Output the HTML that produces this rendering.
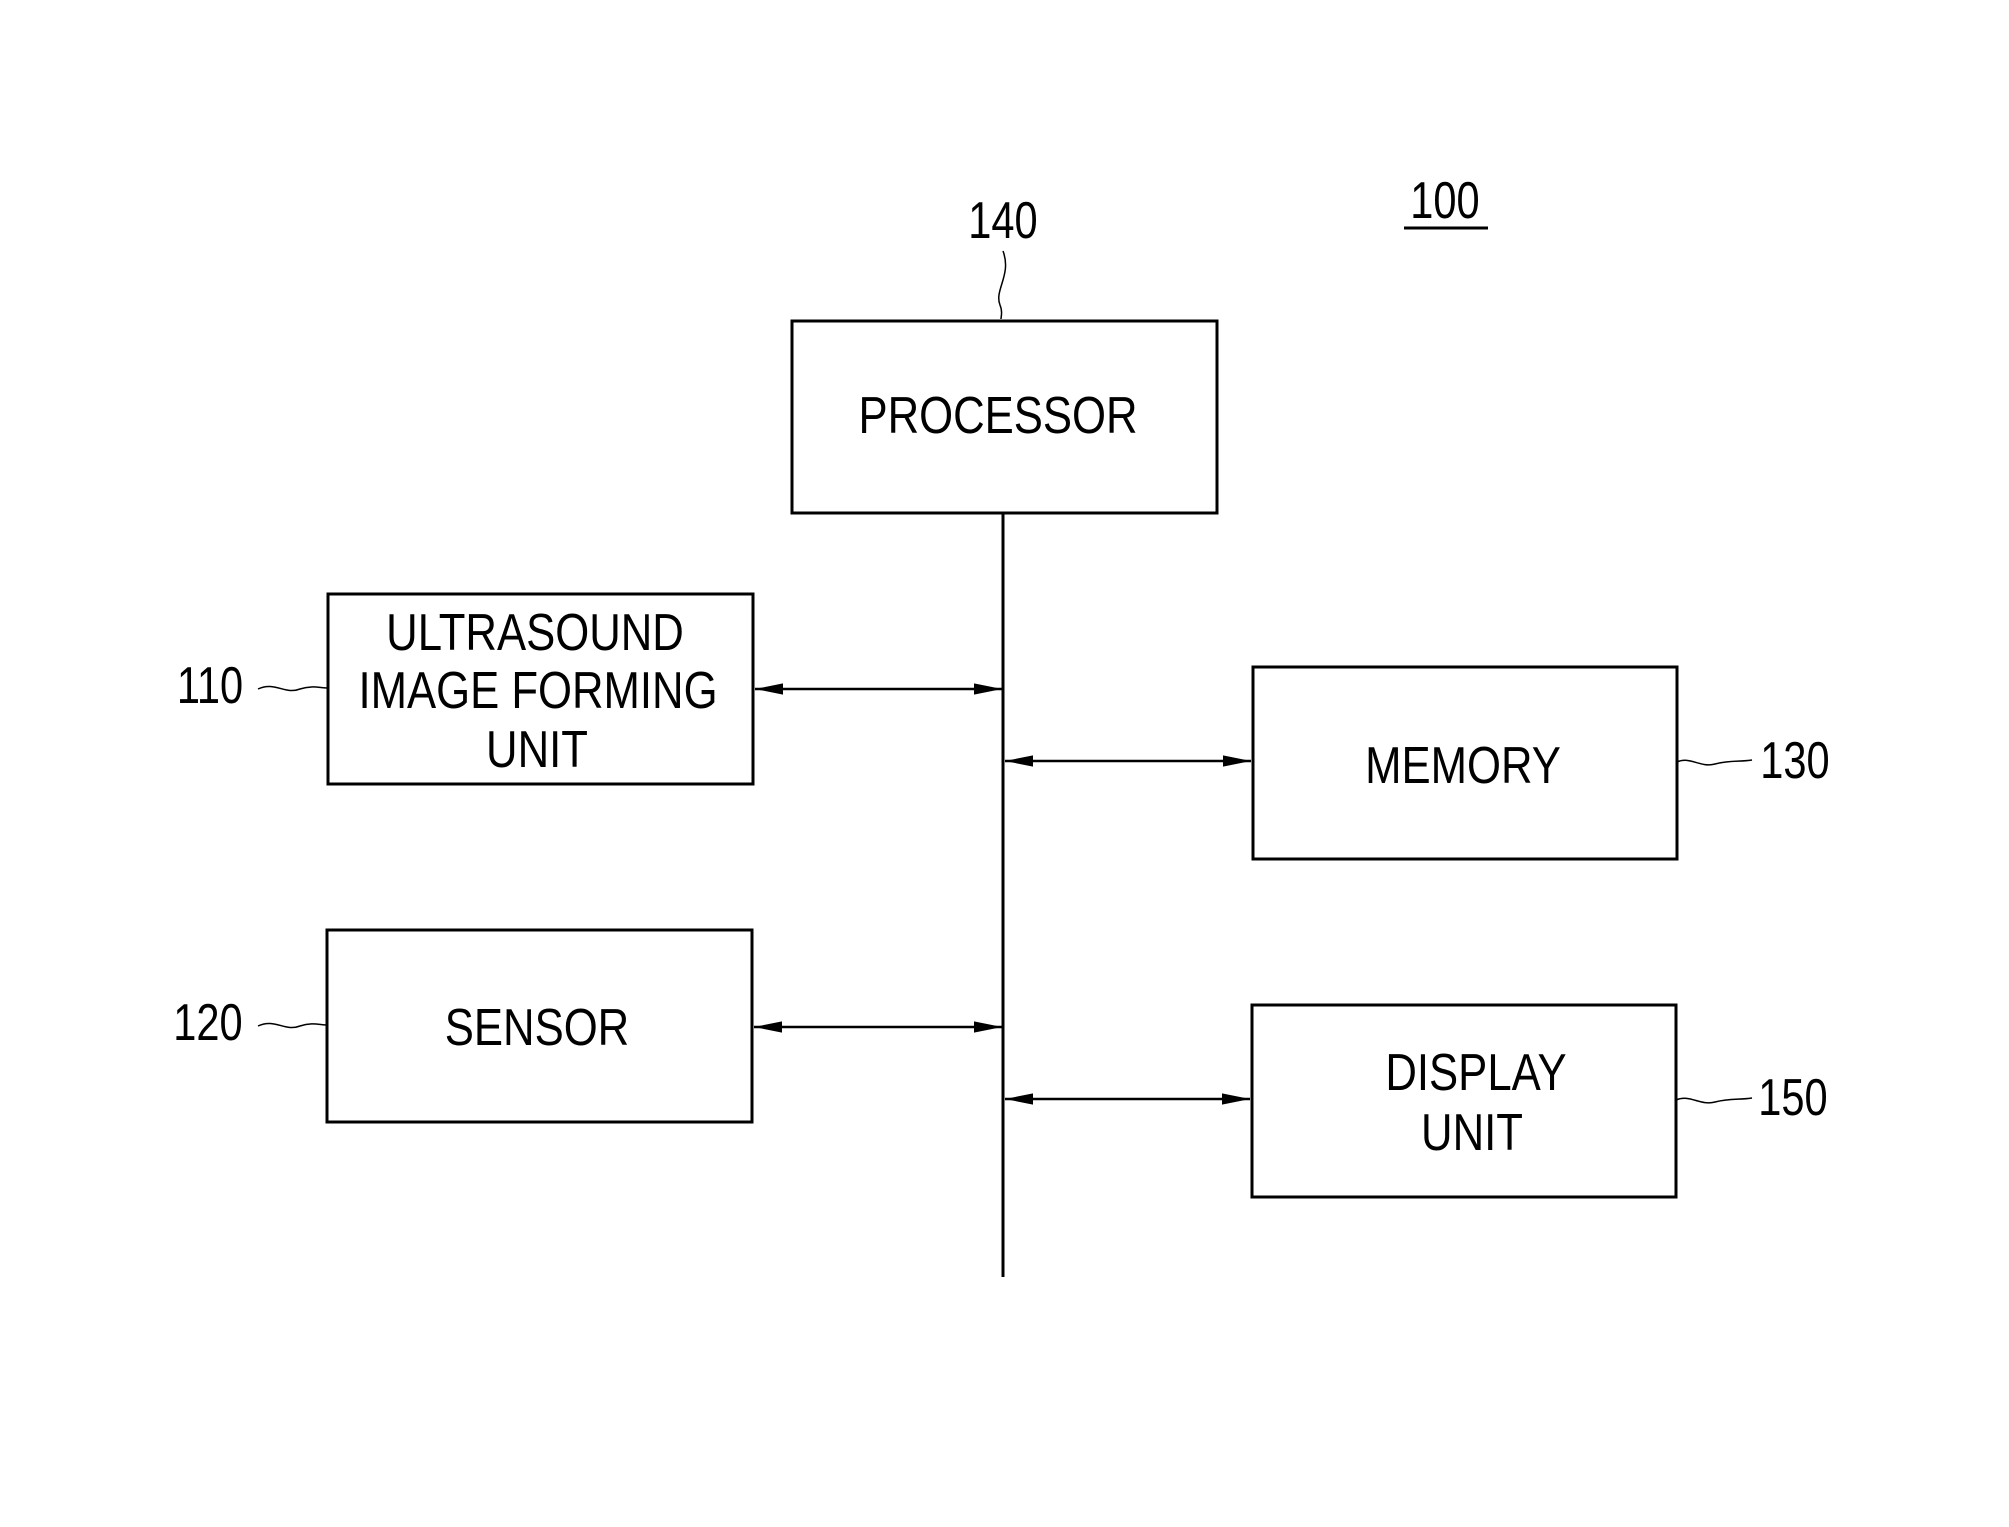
<!DOCTYPE html>
<html><head><meta charset="utf-8"><style>
html,body{margin:0;padding:0;background:#fff;}
svg{display:block;}
text{font-family:"Liberation Sans",sans-serif;fill:#000;}
</style></head><body>
<svg width="2009" height="1527" viewBox="0 0 2009 1527" xmlns="http://www.w3.org/2000/svg">
<defs>
<marker id="a" viewBox="0 0 10 10" refX="10" refY="5" markerWidth="9" markerHeight="9" markerUnits="userSpaceOnUse" orient="auto-start-reverse">
<path d="M0,1 L10,5 L0,9 z" fill="#000"/></marker>
<marker id="b" viewBox="0 0 10 10" refX="10" refY="5" markerWidth="28" markerHeight="14" markerUnits="userSpaceOnUse" orient="auto-start-reverse" preserveAspectRatio="none">
<path d="M0,1 L10,5 L0,9 z" fill="#000"/></marker>
</defs>
<g fill="none" stroke="#000" stroke-width="3">
<rect x="792" y="321" width="425" height="192"/>
<rect x="328" y="594" width="425" height="190"/>
<rect x="1253" y="667" width="424" height="192"/>
<rect x="327" y="930" width="425" height="192"/>
<rect x="1252" y="1005" width="424" height="192"/>
</g>
<line x1="1003" y1="513" x2="1003" y2="1277" stroke="#000" stroke-width="3"/>
<g stroke="#000" stroke-width="2.5" marker-start="url(#b)" marker-end="url(#b)">
<line x1="755" y1="689" x2="1002" y2="689"/>
<line x1="1005" y1="761" x2="1251" y2="761"/>
<line x1="754" y1="1027" x2="1002" y2="1027"/>
<line x1="1005" y1="1099" x2="1250" y2="1099"/>
</g>
<g fill="none" stroke="#000" stroke-width="1.5">
<path d="M1003,251 C1012,275 994,290 1000,305 C1003,312 1001,316 1001,319"/>
<path d="M258,689 C275,681 285,695 300,689 C312,685 320,688 328,688"/>
<path d="M258,1026 C275,1018 285,1032 300,1026 C312,1022 320,1025 327,1025"/>
<path d="M1677,762 C1690,756 1700,768 1715,764 C1730,760 1740,762 1752,760"/>
<path d="M1676,1100 C1690,1094 1700,1106 1715,1102 C1730,1098 1740,1100 1752,1098"/>
</g>
<line x1="1404" y1="228" x2="1488" y2="228" stroke="#000" stroke-width="3"/>
<g font-size="52" text-anchor="middle">
<text transform="translate(1003,238) scale(0.8,1)">140</text>
<text transform="translate(1445,218) scale(0.8,1)">100</text>
<text transform="translate(210,703) scale(0.8,1)">110</text>
<text transform="translate(208,1040) scale(0.8,1)">120</text>
<text transform="translate(1795,778) scale(0.8,1)">130</text>
<text transform="translate(1793,1115) scale(0.8,1)">150</text>
<text transform="translate(998,433) scale(0.84,1)">PROCESSOR</text>
<text transform="translate(535,650) scale(0.84,1)">ULTRASOUND</text>
<text transform="translate(538,708) scale(0.84,1)">IMAGE FORMING</text>
<text transform="translate(537,767) scale(0.84,1)">UNIT</text>
<text transform="translate(1463,783) scale(0.84,1)">MEMORY</text>
<text transform="translate(537,1045) scale(0.84,1)">SENSOR</text>
<text transform="translate(1476,1090) scale(0.84,1)">DISPLAY</text>
<text transform="translate(1472,1150) scale(0.84,1)">UNIT</text>
</g>
</svg>
</body></html>
